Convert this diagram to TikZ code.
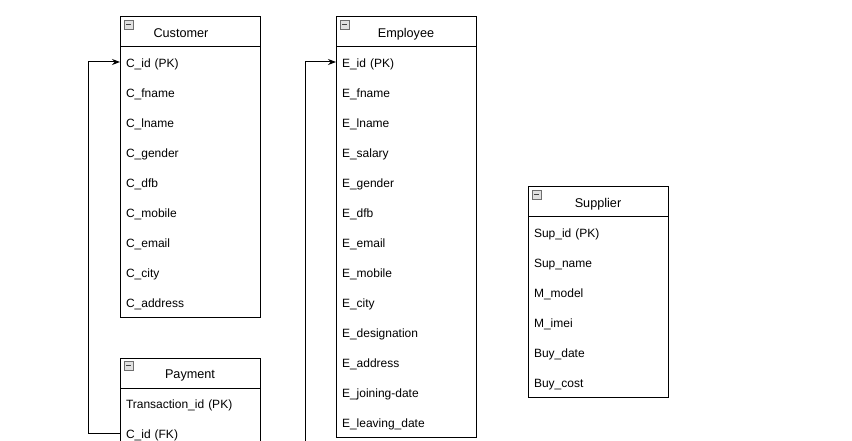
\documentclass[tikz,border=0pt]{standalone}
\usepackage{fontspec}
\setmainfont{Liberation Sans}
\usepackage{tikz}
\usetikzlibrary{
        arrows.meta,
        positioning
    }
\definecolor{icongray}{RGB}{110,110,110}
\definecolor{iconfill}{RGB}{225,225,225}
\tikzset{>={Stealth[length=6pt,width=4.5pt]},shorten >=0pt,x=0.75pt,y=-0.75pt}
\tikzset{
    tablehead/.style={draw,line width=0.75pt,outer sep=0pt,inner sep=0pt,
        minimum width=105pt,minimum height=22.5pt,
        text height=8pt,text depth=0pt,
        font=\fontsize{9.5}{11}\selectfont},
    tablerow/.style={outer sep=0pt,inner xsep=4.5pt,inner ysep=0pt,
        text width=96pt,align=left,minimum height=22.5pt,
        text height=9pt,text depth=1pt,
        font=\fontsize{9}{11}\selectfont},
    collapse/.style={draw=icongray,fill=iconfill,line width=0.5pt,
        inner sep=0pt,minimum size=6.75pt,outer sep=0pt},
    tableframe/.style={draw,line width=0.75pt},
    link/.style={->,line width=0.75pt}
}
\newcommand{\minus}{\textcolor{icongray!60!black}{\rule{4pt}{0.9pt}}}

\begin{document}
\begin{tikzpicture}
                    \useasboundingbox (0,0) rectangle (852,441);
                    % Customer
                    \node[tablehead] (chdr) at (190,32) {Customer\hspace*{13.5pt}};
                    \node[collapse] [below right=2.25pt and 3pt of chdr.north west] {\minus};
                    \node[tablerow] (c1) [below=0pt of chdr] {C\_id (PK)};
                    \node[tablerow] (c2) [below=0pt of c1] {C\_fname};
                    \node[tablerow] (c3) [below=0pt of c2] {C\_lname};
                    \node[tablerow] (c4) [below=0pt of c3] {C\_gender};
                    \node[tablerow] (c5) [below=0pt of c4] {C\_dfb};
                    \node[tablerow] (c6) [below=0pt of c5] {C\_mobile};
                    \node[tablerow] (c7) [below=0pt of c6] {C\_email};
                    \node[tablerow] (c8) [below=0pt of c7] {C\_city};
                    \node[tablerow] (c9) [below=0pt of c8] {C\_address};
                    \draw[tableframe] (chdr.north west) rectangle (c9.south east);
                    % Payment
                    \node[tablehead] (phdr) at (190,373) {Payment};
                    \node[collapse] [below right=2.25pt and 3pt of phdr.north west] {\minus};
                    \node[tablerow] (p1) [below=0pt of phdr] {Transaction\_id (PK)};
                    \node[tablerow] (p2) [below=0pt of p1] {C\_id (FK)};
                    \draw[tableframe] (phdr.north west) rectangle (p2.south east);
                    % Employee
                    \node[tablehead] (ehdr) at (406,32) {Employee};
                    \node[collapse] [below right=2.25pt and 3pt of ehdr.north west] {\minus};
                    \node[tablerow] (e1) [below=0pt of ehdr] {E\_id (PK)};
                    \node[tablerow] (e2) [below=0pt of e1] {E\_fname};
                    \node[tablerow] (e3) [below=0pt of e2] {E\_lname};
                    \node[tablerow] (e4) [below=0pt of e3] {E\_salary};
                    \node[tablerow] (e5) [below=0pt of e4] {E\_gender};
                    \node[tablerow] (e6) [below=0pt of e5] {E\_dfb};
                    \node[tablerow] (e7) [below=0pt of e6] {E\_email};
                    \node[tablerow] (e8) [below=0pt of e7] {E\_mobile};
                    \node[tablerow] (e9) [below=0pt of e8] {E\_city};
                    \node[tablerow] (e10) [below=0pt of e9] {E\_designation};
                    \node[tablerow] (e11) [below=0pt of e10] {E\_address};
                    \node[tablerow] (e12) [below=0pt of e11] {E\_joining-date};
                    \node[tablerow] (e13) [below=0pt of e12] {E\_leaving\_date};
                    \draw[tableframe] (ehdr.north west) rectangle (e13.south east);
                    % Supplier
                    \node[tablehead] (shdr) at (598,202) {Supplier};
                    \node[collapse] [below right=2.25pt and 3pt of shdr.north west] {\minus};
                    \node[tablerow] (s1) [below=0pt of shdr] {Sup\_id (PK)};
                    \node[tablerow] (s2) [below=0pt of s1] {Sup\_name};
                    \node[tablerow] (s3) [below=0pt of s2] {M\_model};
                    \node[tablerow] (s4) [below=0pt of s3] {M\_imei};
                    \node[tablerow] (s5) [below=0pt of s4] {Buy\_date};
                    \node[tablerow] (s6) [below=0pt of s5] {Buy\_cost};
                    \draw[tableframe] (shdr.north west) rectangle (s6.south east);
                    % links
                    \coordinate (efk) at (305,470);
                    \draw[link] (p2.west) -- ++(-32,0) |- (c1.west);
                    \draw[link] (efk) |- (e1.west);
                \end{tikzpicture}
\end{document}
